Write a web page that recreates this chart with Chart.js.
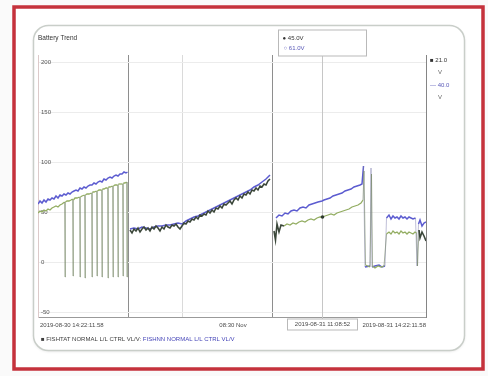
<!DOCTYPE html>
<html>
<head>
<meta charset="utf-8">
<script src="https://cdn.jsdelivr.net/npm/chart.js@4.4.1/dist/chart.umd.min.js"></script>
<style>
  html, body { margin: 0; padding: 0; background: #fafafa; }
  canvas { display: block; }
</style>
</head>
<body>
<canvas id="trend" width="488" height="376"></canvas>
<script>
// ---- chart content ----
const chartTitle = 'Battery Trend';
const seriesNames = ['FISHTAT NORMAL L/L CTRL VL/V:', 'FISHNN NORMAL L/L CTRL VL/V'];
const yTickValues = [-50, 0, 50, 100, 150, 200];
const xLabelTimes = [0, 195, 388];
const xLabelTexts = ['2019-08-30 14:22:11.58', '08:30 Nov', '2019-08-31 14:22:11.58'];
const boundaryTimes = [90, 144, 234];
const cursorTime = 284;
const cursorLabel = '2019-08-31 11:08:52';
const unitText = 'V';

// FISHTAT (green / dark) samples
const greenTimes = [
  0, 2, 4, 6, 8, 10, 12, 14, 16, 18, 20, 22, 24,
  26.6, 27, 27.4, 29, 31, 33, 34.6, 35, 35.4, 37, 39,
  41.6, 42, 42.4, 44, 46.6, 47, 47.4, 49, 51,
  53.6, 54, 54.4, 56, 58.6, 59, 59.4, 61,
  63.6, 64, 64.4, 66, 68, 69.6, 70, 70.4, 72,
  74.6, 75, 75.4, 77, 79.6, 80, 80.4, 82,
  84.6, 85, 85.4, 87, 88.6, 89, 89.4, 90.5,
  92, 94, 96, 98, 100, 102, 104, 106, 108, 110, 112, 114, 116, 118, 120,
  122, 124, 126, 128, 130, 132, 134, 136, 138, 140, 142, 144, 146, 148, 150,
  152, 154, 156, 158, 160, 162, 164, 166, 168, 170, 172, 174, 176, 178, 180,
  182, 184, 186, 188, 190, 192, 194, 196, 198, 200, 202, 204, 206, 208, 210,
  212, 214, 216, 218, 220, 222, 224, 226, 228, 230, 232, 233,
  236, 237.5, 239, 241, 243, 246, 249, 252, 255, 258, 261, 264, 267, 270,
  273, 276, 279, 282, 284, 287, 290, 293, 296, 299, 302, 305, 308, 311,
  314, 317, 320, 323,
  325, 326, 327.5, 332, 333.5, 334.5, 337, 340, 343, 346,
  348.5, 351, 353, 355, 357, 359, 361, 363, 365, 367, 369, 371, 373, 375, 377,
  378.5, 379.5, 381, 382, 384, 386, 388
];
const greenVolts = [
  49, 51, 50, 52, 51, 53, 52, 54, 55, 56, 55, 57, 58,
  60, -15, 60, 61, 61, 62, 63, -14, 62, 64, 64,
  65, -15, 65, 66, 67, -16, 67, 68, 68,
  69, -15, 70, 70, 71, -14, 71, 72,
  72, -15, 73, 73, 74, 74, -16, 75, 75,
  76, -15, 76, 77, 77, -15, 78, 78,
  78, -14, 79, 79, 80, -15, 80, null,
  32, 29, 33, 31, 34, 30, 33, 35, 32, 34, 31, 35, 33, 36, 34,
  31, 35, 33, 37, 35, 34, 37, 36, 38, 35, 33, 36, 39, 38, 41,
  40, 43, 42, 45, 43, 47, 46, 48, 47, 51, 49, 52, 50, 54, 53,
  56, 54, 58, 57, 59, 61, 58, 62, 64, 62, 66, 64, 68, 67, 70,
  68, 72, 71, 74, 72, 76, 75, 78, 77, 81, 83, null,
  31, 22, 38, 30, 37, 36, 38, 37, 39, 38, 40, 41, 40, 42,
  43, 42, 44, 45, 45, 46, 47, 48, 47, 49, 50, 51, 52, 53,
  55, 56, 57, 59,
  62, 91, -3, -5, 88, -4, -6, -4, -5, -4,
  28, 30, 28, 31, 29, 30, 28, 31, 29, 30, 28, 30, 29, 28, 30,
  29, -4, 32, 24, 30, 26, 21
];

// FISHNN (blue) samples
const blueTimes = [
  0, 2, 4, 6, 8, 10, 12, 14, 16, 18, 20, 22, 24, 26, 28, 30, 32, 34, 36, 38,
  40, 42, 44, 46, 48, 50, 52, 54, 56, 58, 60, 62, 64, 66, 68, 70, 72, 74, 76,
  78, 80, 82, 84, 86, 88, 89.5, 90.5,
  92, 96, 100, 104, 108, 112, 116, 120, 124, 128, 132, 136, 140, 144, 148,
  152, 156, 160, 164, 168, 172, 176, 180, 184, 188, 192, 196, 200, 204, 208,
  212, 216, 220, 224, 228, 232, 233,
  238, 241, 244, 247, 250, 253, 256, 259, 262, 265, 268, 271, 274, 277, 280,
  284, 286, 289, 292, 295, 298, 301, 304, 307, 310, 313, 316, 319, 322, 324,
  325.5, 327, 332, 333, 334, 337, 341, 344, 347,
  348.5, 351, 353, 355, 357, 359, 361, 363, 365, 367, 369, 371, 373, 375,
  377.5, 379, 380.5, 382, 384, 386, 388
];
const blueVolts = [
  58, 61, 59, 62, 60, 63, 62, 64, 63, 66, 64, 67, 66, 68, 67, 69, 68, 70, 71, 72,
  71, 74, 73, 75, 74, 76, 77, 77, 79, 78, 80, 81, 80, 83, 82, 84, 85, 84, 86,
  87, 86, 88, 88, 90, 89, 90, null,
  33, 34, 33, 35, 34, 33, 35, 36, 36, 37, 37, 38, 39, 38, 41,
  43, 45, 46, 48, 50, 52, 54, 56, 58, 60, 62, 64, 66, 68, 70,
  72, 75, 77, 80, 83, 87, null,
  44, 47, 46, 49, 48, 51, 52, 51, 54, 55, 54, 57, 58, 59, 60,
  61, 62, 63, 64, 66, 67, 68, 69, 71, 72, 73, 75, 76, 77, 78,
  96, -5, -4, 94, -5, -4, -3, -5, -4,
  44, 47, 43, 46, 44, 45, 43, 46, 44, 45, 43, 45, 44, 43,
  44, -4, 38, 42, 36, 39, 40
];

// ---- styling ----
const GREEN = '#93ad62';
const DARK = '#3b473a';
const BLUE = '#5c5cd0';
const TEXT = '#4a4a4a';
const FONT = "'Liberation Sans', Arial, sans-serif";

const toPoints = (ts, vs) => ts.map((t, i) => ({ x: t, y: vs[i] }));
const darkSpans = [[91, 245], [380, 389]];
const isDark = x => darkSpans.some(([a, b]) => x >= a && x <= b);
const isJump = c => Math.abs(c.p1.parsed.y - c.p0.parsed.y) > 25;
const valueAt = (ts, vs, t) => vs[ts.indexOf(t)];

function label(ctx, s, x, y, color, align = 'left', size = 6) {
  ctx.save();
  ctx.font = `${size}px ${FONT}`;
  ctx.fillStyle = color;
  ctx.textAlign = align;
  ctx.textBaseline = 'middle';
  ctx.fillText(s, x, y);
  ctx.restore();
}

const decor = {
  id: 'decor',
  beforeDraw(chart) {
    const ctx = chart.ctx;
    ctx.save();
    ctx.fillStyle = '#fafafa';
    ctx.fillRect(0, 0, 488, 376);
    ctx.fillStyle = '#ffffff';
    ctx.fillRect(14, 7, 470, 362);
    // red outer frame
    ctx.strokeStyle = '#c5323c';
    ctx.lineWidth = 3.5;
    ctx.strokeRect(14, 7, 469, 362);
    // rounded panel
    ctx.shadowColor = 'rgba(0,0,0,0.12)';
    ctx.shadowBlur = 3;
    ctx.shadowOffsetY = 1;
    ctx.beginPath();
    ctx.roundRect(33.5, 25.5, 431, 325, 15);
    ctx.fillStyle = '#ffffff';
    ctx.fill();
    ctx.shadowColor = 'transparent';
    ctx.strokeStyle = '#c9cec9';
    ctx.lineWidth = 1.5;
    ctx.stroke();
    ctx.restore();
  },
  beforeDatasetsDraw(chart) {
    const ctx = chart.ctx;
    const xs = chart.scales.x;
    const area = chart.chartArea;
    const cx = Math.round(xs.getPixelForValue(cursorTime)) + 0.5;
    ctx.save();
    ctx.strokeStyle = '#c6c6c6';
    ctx.lineWidth = 1;
    ctx.beginPath();
    ctx.moveTo(cx, 56);
    ctx.lineTo(cx, area.bottom + 2);
    ctx.stroke();
    ctx.restore();
  },
  afterDraw(chart) {
    const ctx = chart.ctx;
    const xs = chart.scales.x;
    const ys = chart.scales.y;
    const area = chart.chartArea;
    ctx.save();
    // right frame of the plot
    ctx.strokeStyle = '#858585';
    ctx.lineWidth = 1;
    ctx.beginPath();
    ctx.moveTo(Math.round(area.right) + 0.5, area.top);
    ctx.lineTo(Math.round(area.right) + 0.5, area.bottom + 1);
    ctx.stroke();
    ctx.restore();

    // title
    label(ctx, chartTitle, 38, 38, '#333333', 'left', 6.5);

    // time labels under the axis
    const ty = area.bottom + 8;
    xLabelTimes.forEach((t, i) => {
      const align = i === 0 ? 'left' : (i === xLabelTimes.length - 1 ? 'right' : 'center');
      label(ctx, xLabelTexts[i], xs.getPixelForValue(t) + (i === 0 ? 2 : 0), ty, TEXT, align);
    });

    // cursor readout
    const cx = Math.round(xs.getPixelForValue(cursorTime)) + 0.5;
    const gVal = valueAt(greenTimes, greenVolts, cursorTime);
    const bVal = valueAt(blueTimes, blueVolts, cursorTime);
    ctx.save();
    ctx.fillStyle = '#ffffff';
    ctx.strokeStyle = '#b9b9b9';
    ctx.lineWidth = 1;
    ctx.fillRect(cx - 35, area.bottom + 2, 70, 11);
    ctx.strokeRect(cx - 35, area.bottom + 2, 70, 11);
    ctx.fillRect(cx - 44, 30, 88, 26);
    ctx.strokeRect(cx - 44, 30, 88, 26);
    // marker on the FISHTAT trace
    ctx.fillStyle = '#2e3a2e';
    ctx.beginPath();
    ctx.arc(cx, ys.getPixelForValue(gVal), 1.8, 0, Math.PI * 2);
    ctx.fill();
    ctx.restore();
    label(ctx, cursorLabel, cx, area.bottom + 7.5, TEXT, 'center');
    label(ctx, '\u25CF ' + gVal.toFixed(1) + unitText, cx - 40, 38, '#333333');
    label(ctx, '\u25CB ' + bVal.toFixed(1) + unitText, cx - 39, 48, '#5a5ab8');

    // latest values at the right edge
    const gLast = greenVolts[greenVolts.length - 1];
    const bLast = blueVolts[blueVolts.length - 1];
    const rx = area.right + 4;
    label(ctx, '\u25A0 ' + gLast.toFixed(1), rx, 60, '#333333');
    label(ctx, unitText, rx + 8, 72, '#666666');
    label(ctx, '\u2014 ' + bLast.toFixed(1), rx, 85, '#5a5ab8');
    label(ctx, unitText, rx + 8, 97, '#666666');

    // series legend
    ctx.save();
    ctx.font = `6px ${FONT}`;
    const w0 = ctx.measureText('\u25A0 ' + seriesNames[0] + ' ').width;
    ctx.restore();
    label(ctx, '\u25A0 ' + seriesNames[0], 41, 339, '#3e3e3e');
    label(ctx, seriesNames[1], 41 + w0, 339, '#4646b8');
  }
};

new Chart(document.getElementById('trend'), {
  type: 'line',
  data: {
    datasets: [
      {
        label: seriesNames[0],
        data: toPoints(greenTimes, greenVolts),
        borderColor: GREEN,
        borderWidth: 1.3,
        pointRadius: 0,
        tension: 0,
        spanGaps: false,
        order: 1,
        segment: {
          borderColor: c => isJump(c) ? 'rgba(118,134,100,0.75)' : (isDark(c.p0.parsed.x) ? DARK : undefined),
          borderWidth: c => isJump(c) ? 0.8 : (isDark(c.p0.parsed.x) ? 1.6 : undefined)
        }
      },
      {
        label: seriesNames[1],
        data: toPoints(blueTimes, blueVolts),
        borderColor: BLUE,
        borderWidth: 1.5,
        pointRadius: 0,
        tension: 0,
        spanGaps: false,
        order: 2,
        segment: {
          borderColor: c => isJump(c) ? 'rgba(120,120,170,0.6)' : undefined,
          borderWidth: c => isJump(c) ? 0.8 : undefined
        }
      }
    ]
  },
  options: {
    responsive: false,
    animation: false,
    events: [],
    layout: { padding: { left: 38, top: 55, right: 62, bottom: 59 } },
    plugins: {
      legend: { display: false },
      title: { display: false },
      tooltip: { enabled: false }
    },
    scales: {
      x: {
        type: 'linear',
        min: 0,
        max: 388,
        afterFit: s => { s.height = 0; },
        afterBuildTicks: s => { s.ticks = boundaryTimes.map(v => ({ value: v })); },
        ticks: { display: false },
        grid: {
          drawTicks: false,
          color: c => (c.index === 1 ? '#dadada' : '#8e8e8e'),
          lineWidth: 1
        },
        border: { color: '#9a9a9a' }
      },
      y: {
        min: -55,
        max: 207,
        afterFit: s => { s.width = 0; },
        afterBuildTicks: s => { s.ticks = yTickValues.map(v => ({ value: v })); },
        ticks: {
          mirror: true,
          padding: 3,
          color: '#555555',
          font: { family: FONT, size: 6 }
        },
        grid: { drawTicks: false, color: '#ececec', lineWidth: 1 },
        border: { color: '#dccaca' }
      }
    }
  },
  plugins: [decor]
});
</script>
</body>
</html>
